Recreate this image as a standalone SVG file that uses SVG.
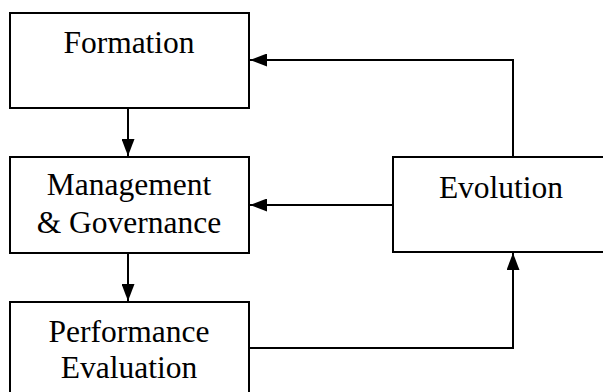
<svg xmlns="http://www.w3.org/2000/svg" width="603" height="392" viewBox="0 0 603 392">
<style>
.box{fill:#fff;stroke:#000;stroke-width:2}
.t{font-family:"Liberation Serif","Times New Roman",serif;font-size:31.5px;fill:#000;text-anchor:middle}
.c{fill:none;stroke:#000;stroke-width:2}
</style>
<defs>
<marker id="ah" markerWidth="17" markerHeight="13" refX="17" refY="6.5" orient="auto" markerUnits="userSpaceOnUse">
<path d="M0,0 L17,6.5 L0,13 Z" fill="#000"/>
</marker>
</defs>
<rect width="603" height="392" fill="#fff"/>
<g id="formation">
<rect class="box" x="10" y="13" width="239" height="95"/>
<text class="t" x="129" y="53">Formation</text>
</g>
<g id="management">
<rect class="box" x="10" y="157" width="239" height="96"/>
<text class="t" x="129" y="195">Management</text>
<text class="t" x="129" y="233">&amp; Governance</text>
</g>
<g id="performance">
<rect class="box" x="10" y="302" width="239" height="100"/>
<text class="t" x="129" y="342">Performance</text>
<text class="t" x="129" y="378">Evaluation</text>
</g>
<g id="evolution">
<rect class="box" x="393" y="157" width="220" height="95"/>
<text class="t" x="501" y="198">Evolution</text>
</g>
<g id="connectors">
<path class="c" d="M128,108 V156" marker-end="url(#ah)"/>
<path class="c" d="M128,253 V301" marker-end="url(#ah)"/>
<path class="c" d="M249,348 H513 V253" marker-end="url(#ah)"/>
<path class="c" d="M513,157 V60 H250" marker-end="url(#ah)"/>
<path class="c" d="M393,205 H250" marker-end="url(#ah)"/>
</g>
</svg>
